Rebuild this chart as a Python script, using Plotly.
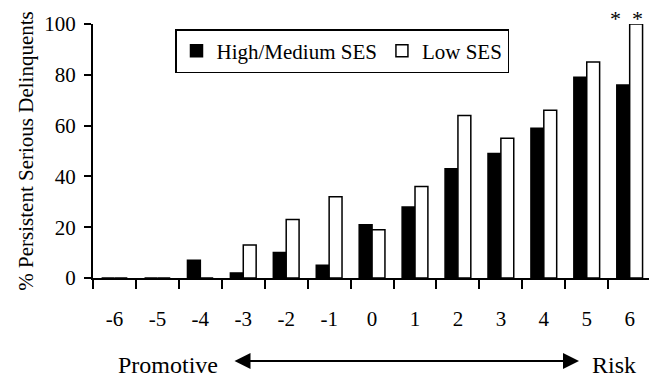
import plotly.graph_objects as go

# Composite score: negative = promotive, positive = risk
categories = ["-6", "-5", "-4", "-3", "-2", "-1", "0", "1", "2", "3", "4", "5", "6"]
high_medium_ses = [0, 0, 7, 2, 10, 5, 21, 28, 43, 49, 59, 79, 76]
low_ses = [0, 0, 0, 13, 23, 32, 19, 36, 64, 55, 66, 85, 100]
y_ticks = [0, 20, 40, 60, 80, 100]

FONT = "Liberation Serif"

fig = go.Figure()
fig.add_trace(go.Bar(
    x=categories, y=high_medium_ses, name="High/Medium SES",
    marker=dict(color="black", line=dict(color="black", width=1.5)),
))
fig.add_trace(go.Bar(
    x=categories, y=low_ses, name="Low SES",
    marker=dict(color="white", line=dict(color="black", width=1.5)),
))

W, H = 649, 378
L, R, T, B = 93, 0, 24, 100

fig.update_layout(
    template="none",
    width=W, height=H,
    margin=dict(l=L, r=R, t=T, b=B, autoexpand=False),
    paper_bgcolor="white", plot_bgcolor="white",
    font=dict(family=FONT, size=20, color="black"),
    barmode="group", bargap=0.4, bargroupgap=0.0,
    showlegend=True,
    legend=dict(
        orientation="h",
        x=(175 - L) / (W - L - R), y=(H - B - 29) / (H - B - T),
        xanchor="left", yanchor="top",
        bordercolor="black", borderwidth=1.5, bgcolor="white",
        font=dict(family=FONT, size=21, color="black"),
        traceorder="normal",
    ),
    xaxis=dict(
        type="category",
        range=[-0.5, 12.45],
        showline=True, linecolor="black", linewidth=2,
        ticks="outside", tickson="boundaries", ticklen=9, tickwidth=2, tickcolor="black",
        showgrid=False, zeroline=False,
        ticklabelstandoff=21,
        tickfont=dict(family=FONT, size=21, color="black"),
    ),
    yaxis=dict(
        range=[0, 100],
        tickvals=y_ticks,
        showline=True, linecolor="black", linewidth=2,
        ticks="outside", ticklen=7, tickwidth=2, tickcolor="black",
        showgrid=False, zeroline=False,
        ticklabelstandoff=4,
        tickfont=dict(family=FONT, size=21, color="black"),
        title=dict(text="% Persistent Serious Delinquents",
                   font=dict(family=FONT, size=21, color="black"), standoff=5),
    ),
)

# Significance markers above the last pair of bars
last = len(categories) - 1
fig.add_annotation(
    x=last, y=low_ses[last], xref="x", yref="y",
    text="*  *", showarrow=False, yanchor="bottom", xshift=-3, yshift=-9,
    font=dict(family=FONT, size=22, color="black"),
)

# Promotive <-> Risk direction arrow below the axis
def px_to_paper_x(px):
    return (px - L) / (W - L - R)

def px_to_paper_y(py):
    return (H - B - py) / (H - B - T)

arrow_y = px_to_paper_y(361)
fig.add_annotation(
    x=px_to_paper_x(579), y=arrow_y, xref="paper", yref="paper",
    ax=-(579 - 233), ay=0,
    showarrow=True, arrowside="end+start", arrowhead=2,
    arrowsize=1.6, arrowwidth=2, arrowcolor="black", text="",
)
fig.add_annotation(
    x=px_to_paper_x(168), y=px_to_paper_y(365), xref="paper", yref="paper",
    xanchor="center", yanchor="middle",
    text="Promotive", showarrow=False, font=dict(family=FONT, size=24, color="black"),
)
fig.add_annotation(
    x=px_to_paper_x(614), y=px_to_paper_y(365), xref="paper", yref="paper",
    xanchor="center", yanchor="middle",
    text="Risk", showarrow=False, font=dict(family=FONT, size=24, color="black"),
)

fig.write_html("out.html")
